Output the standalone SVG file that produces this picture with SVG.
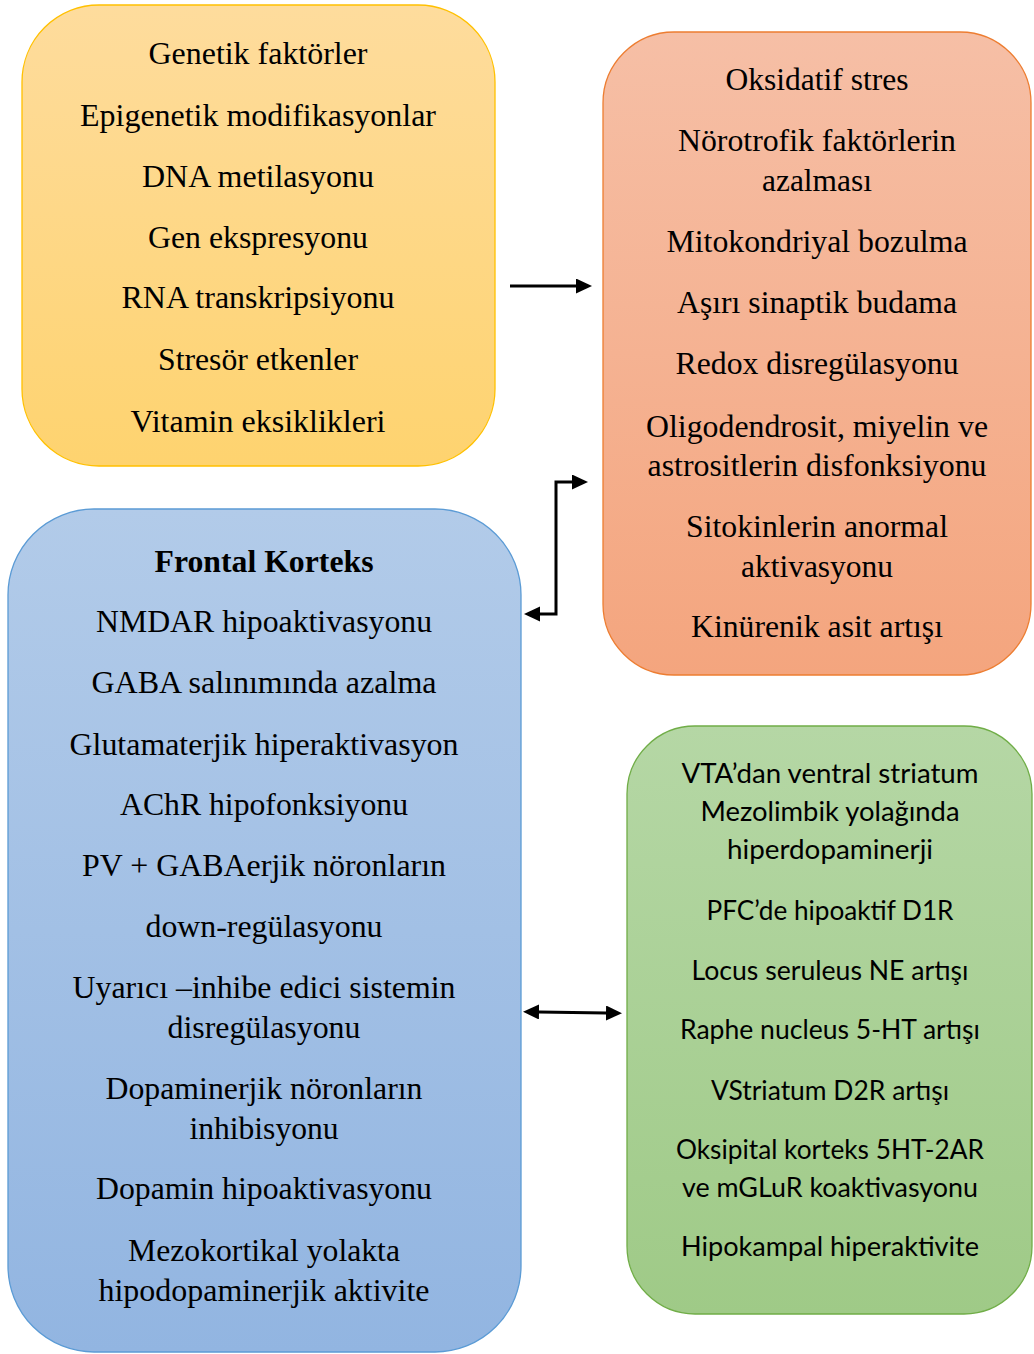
<svg xmlns="http://www.w3.org/2000/svg" width="1034" height="1354" viewBox="0 0 1034 1354">
<style>
.s{font-family:"Liberation Serif","Times New Roman",serif;font-size:32px;fill:#000;text-anchor:middle}
.b{font-weight:bold}
.c{font-family:Lato,"Liberation Sans",sans-serif;font-size:26px;fill:#000;text-anchor:middle}
.box{stroke-width:1.3}
.con{fill:none;stroke:#000;stroke-width:3;marker-end:url(#ah)}
.dbl{marker-start:url(#ah)}
</style>
<defs>
<linearGradient id="gy" x1="0" y1="0" x2="0" y2="1"><stop offset="0" stop-color="#FEDC9D"/><stop offset="1" stop-color="#FED36F"/></linearGradient>
<linearGradient id="go" x1="0" y1="0" x2="0" y2="1"><stop offset="0" stop-color="#F6BFA6"/><stop offset="1" stop-color="#F4A57E"/></linearGradient>
<linearGradient id="gb" x1="0" y1="0" x2="0" y2="1"><stop offset="0" stop-color="#B2CBE9"/><stop offset="1" stop-color="#92B5E1"/></linearGradient>
<linearGradient id="gg" x1="0" y1="0" x2="0" y2="1"><stop offset="0" stop-color="#B5D7A5"/><stop offset="1" stop-color="#9FCA87"/></linearGradient>
<marker id="ah" markerUnits="userSpaceOnUse" markerWidth="17" markerHeight="16" refX="0" refY="7.5" orient="auto-start-reverse" viewBox="0 0 17 16"><path d="M0,0 L16,7.5 L0,15 z" fill="#000"/></marker>
</defs>
<rect width="1034" height="1354" fill="#fff"/>

<g id="node-genetic">
<rect class="box" x="22" y="5" width="473" height="461" rx="77" fill="url(#gy)" stroke="#FFC000"/>
<text class="s" x="258" y="64" textLength="219" lengthAdjust="spacingAndGlyphs">Genetik faktörler</text>
<text class="s" x="258" y="126" textLength="356" lengthAdjust="spacingAndGlyphs">Epigenetik modifikasyonlar</text>
<text class="s" x="258" y="187" textLength="232" lengthAdjust="spacingAndGlyphs">DNA metilasyonu</text>
<text class="s" x="258" y="248" textLength="220" lengthAdjust="spacingAndGlyphs">Gen ekspresyonu</text>
<text class="s" x="258" y="308" textLength="273" lengthAdjust="spacingAndGlyphs">RNA transkripsiyonu</text>
<text class="s" x="258" y="370" textLength="200" lengthAdjust="spacingAndGlyphs">Stresör etkenler</text>
<text class="s" x="258" y="432" textLength="255" lengthAdjust="spacingAndGlyphs">Vitamin eksiklikleri</text>
</g>

<g id="node-stress">
<rect class="box" x="603" y="32" width="428" height="643" rx="71" fill="url(#go)" stroke="#ED7D31"/>
<text class="s" x="817" y="90" textLength="183" lengthAdjust="spacingAndGlyphs">Oksidatif stres</text>
<text class="s" x="817" y="151" textLength="278" lengthAdjust="spacingAndGlyphs">Nörotrofik faktörlerin</text>
<text class="s" x="817" y="191" textLength="110" lengthAdjust="spacingAndGlyphs">azalması</text>
<text class="s" x="817" y="252" textLength="301" lengthAdjust="spacingAndGlyphs">Mitokondriyal bozulma</text>
<text class="s" x="817" y="313" textLength="280" lengthAdjust="spacingAndGlyphs">Aşırı sinaptik budama</text>
<text class="s" x="817" y="374" textLength="283" lengthAdjust="spacingAndGlyphs">Redox disregülasyonu</text>
<text class="s" x="817" y="437" textLength="342" lengthAdjust="spacingAndGlyphs">Oligodendrosit, miyelin ve</text>
<text class="s" x="817" y="476" textLength="339" lengthAdjust="spacingAndGlyphs">astrositlerin disfonksiyonu</text>
<text class="s" x="817" y="537" textLength="262" lengthAdjust="spacingAndGlyphs">Sitokinlerin anormal</text>
<text class="s" x="817" y="577" textLength="152" lengthAdjust="spacingAndGlyphs">aktivasyonu</text>
<text class="s" x="817" y="637" textLength="252" lengthAdjust="spacingAndGlyphs">Kinürenik asit artışı</text>
</g>

<g id="node-frontal">
<rect class="box" x="8" y="509" width="513" height="843" rx="86" fill="url(#gb)" stroke="#5B9BD5"/>
<text class="s b" x="264" y="572" textLength="219" lengthAdjust="spacingAndGlyphs">Frontal Korteks</text>
<text class="s" x="264" y="632" textLength="336" lengthAdjust="spacingAndGlyphs">NMDAR hipoaktivasyonu</text>
<text class="s" x="264" y="693" textLength="345" lengthAdjust="spacingAndGlyphs">GABA salınımında azalma</text>
<text class="s" x="264" y="755" textLength="389" lengthAdjust="spacingAndGlyphs">Glutamaterjik hiperaktivasyon</text>
<text class="s" x="264" y="815" textLength="288" lengthAdjust="spacingAndGlyphs">AChR hipofonksiyonu</text>
<text class="s" x="264" y="876" textLength="364" lengthAdjust="spacingAndGlyphs">PV + GABAerjik nöronların</text>
<text class="s" x="264" y="937" textLength="237" lengthAdjust="spacingAndGlyphs">down-regülasyonu</text>
<text class="s" x="264" y="998" textLength="383" lengthAdjust="spacingAndGlyphs">Uyarıcı –inhibe edici sistemin</text>
<text class="s" x="264" y="1038" textLength="193" lengthAdjust="spacingAndGlyphs">disregülasyonu</text>
<text class="s" x="264" y="1099" textLength="317" lengthAdjust="spacingAndGlyphs">Dopaminerjik nöronların</text>
<text class="s" x="264" y="1139" textLength="149" lengthAdjust="spacingAndGlyphs">inhibisyonu</text>
<text class="s" x="264" y="1199" textLength="336" lengthAdjust="spacingAndGlyphs">Dopamin hipoaktivasyonu</text>
<text class="s" x="264" y="1261" textLength="272" lengthAdjust="spacingAndGlyphs">Mezokortikal yolakta</text>
<text class="s" x="264" y="1301" textLength="331" lengthAdjust="spacingAndGlyphs">hipodopaminerjik aktivite</text>
</g>

<g id="node-neuro">
<rect class="box" x="627" y="726" width="405" height="588" rx="68" fill="url(#gg)" stroke="#70AD47"/>
<text class="c" x="830" y="783" textLength="297" lengthAdjust="spacingAndGlyphs">VTA’dan ventral striatum</text>
<text class="c" x="830" y="821" textLength="259" lengthAdjust="spacingAndGlyphs">Mezolimbik yolağında</text>
<text class="c" x="830" y="859" textLength="206" lengthAdjust="spacingAndGlyphs">hiperdopaminerji</text>
<text class="c" x="830" y="920" textLength="247" lengthAdjust="spacingAndGlyphs">PFC’de hipoaktif D1R</text>
<text class="c" x="830" y="980" textLength="277" lengthAdjust="spacingAndGlyphs">Locus seruleus NE artışı</text>
<text class="c" x="830" y="1039" textLength="300" lengthAdjust="spacingAndGlyphs">Raphe nucleus 5-HT artışı</text>
<text class="c" x="830" y="1100" textLength="238" lengthAdjust="spacingAndGlyphs">VStriatum D2R artışı</text>
<text class="c" x="830" y="1159" textLength="308" lengthAdjust="spacingAndGlyphs">Oksipital korteks 5HT-2AR</text>
<text class="c" x="830" y="1197" textLength="296" lengthAdjust="spacingAndGlyphs">ve mGLuR koaktivasyonu</text>
<text class="c" x="830" y="1256" textLength="298" lengthAdjust="spacingAndGlyphs">Hipokampal hiperaktivite</text>
</g>

<g id="connectors">
<path class="con" d="M510,286 H576"/>
<path class="con dbl" d="M572,482 H556 V614 H540"/>
<path class="con dbl" d="M539,1012 L606,1013"/>
</g>
</svg>
